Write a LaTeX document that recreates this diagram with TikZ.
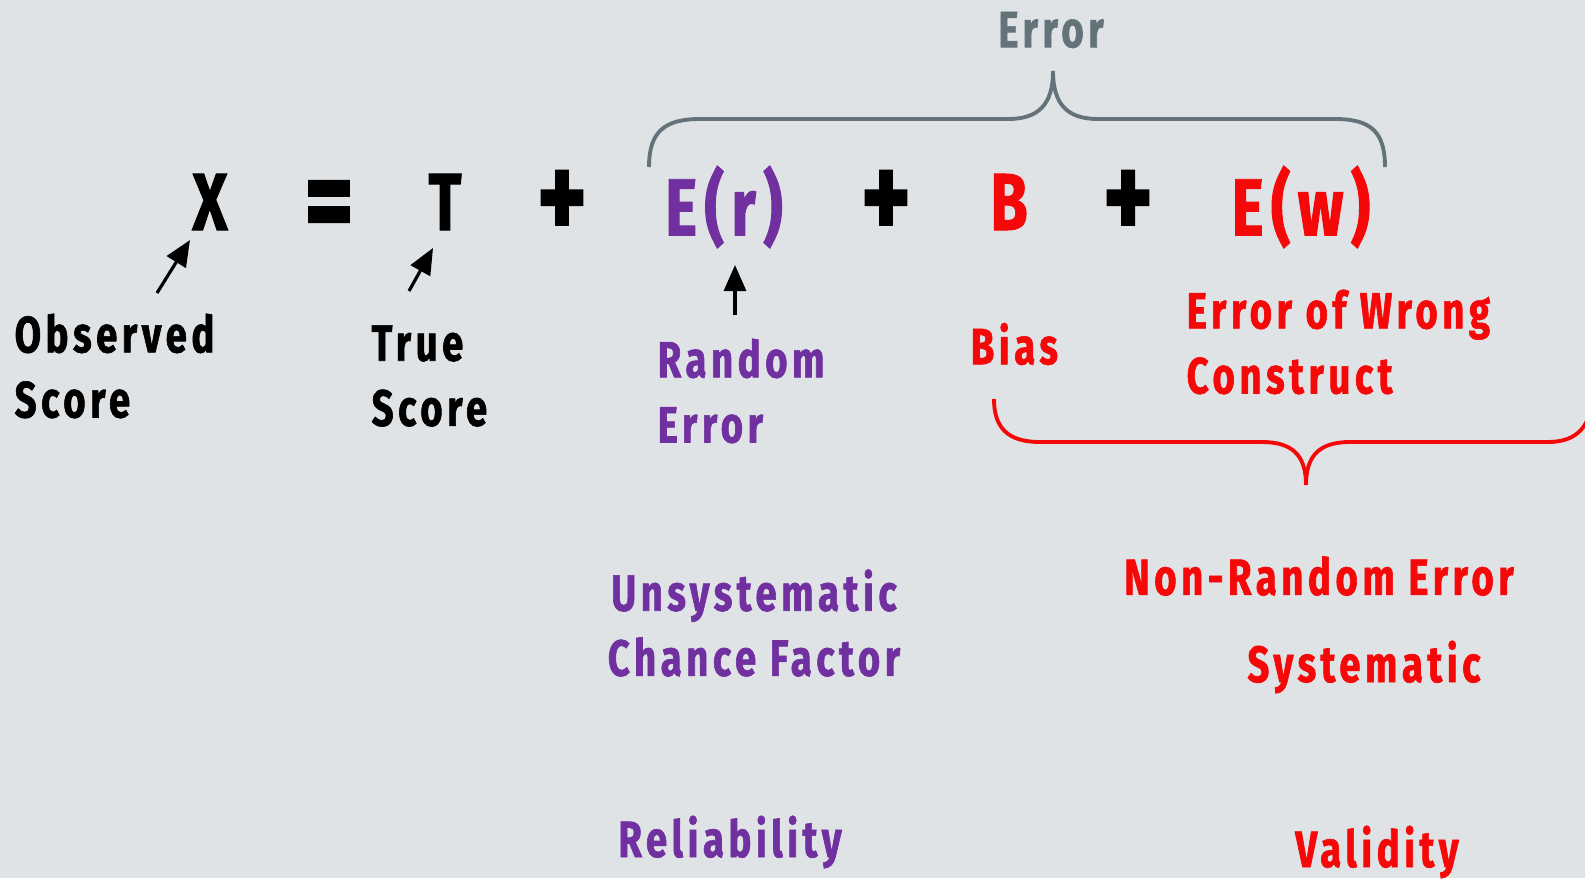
\documentclass[tikz,border=0pt]{standalone}
\usepackage{fontspec}
\setmainfont{Fira Sans}[FakeStretch=0.75, LetterSpace=9, BoldFeatures={FakeBold=1.2}]
\usepackage{tikz}
\usetikzlibrary{arrows.meta}
\definecolor{bgcol}{RGB}{224,227,230}
\definecolor{errgray}{RGB}{100,114,122}
\definecolor{rndpurple}{RGB}{112,48,160}
\definecolor{sysred}{RGB}{245,8,8}

\begin{document}
\begin{tikzpicture}[
    x=0.01cm, y=-0.01cm,
    every node/.style={inner sep=0pt},
    sym/.style={font=\fontsize{23}{26}\selectfont\bfseries},
    op/.style={font=\fontsize{36}{40}\selectfont\bfseries},
    lbl/.style={font=\fontsize{14.5}{18.5}\selectfont\bfseries, align=left, anchor=west},
    ctext/.style={font=\fontsize{14.5}{18.5}\selectfont\bfseries, align=center},
    arr/.style={-{Triangle[length=2.6mm, width=2.2mm]}, line width=0.9pt},
    brace/.style={line width=1.1pt}
]
\fill[bgcol] (0,0) rectangle (1585,878);
\useasboundingbox (0,0) rectangle (1585,878);

% the equation
\node[sym] (X) at (210,202) {X};
\node[op] (eq) at (329,212) {=};
\node[sym] (T) at (445,202) {T};
\node[op] (p1) at (562,205) {+};
\node[sym, text=rndpurple] (Er) at (724,207) {E(r)};
\node[op] (p2) at (886,205) {+};
\node[sym, text=sysred] (B) at (1009,202) {B};
\node[op] (p3) at (1128,205) {+};
\node[sym, text=sysred] (Ew) at (1301,207) {E(w)};

% labels under it
\node[lbl] (obs) at (14,366) {Observed\\Score};
\node[lbl] (tru) at (371,376) {True\\Score};
\node[lbl, text=rndpurple] (rnd) at (657,391) {Random\\Error};
\node[lbl, text=sysred] (bias) at (970,344) {Bias};
\node[lbl, text=sysred] (wrong) at (1186,342) {Error of Wrong\\Construct};

\coordinate (obsTail) at (157,293);
\coordinate (obsTip) at (190,240);
\coordinate (truTail) at (409,291);
\coordinate (truTip) at (433,248);
\coordinate (rndTail) at (735,315);
\coordinate (rndTip) at (735,265);
\draw[arr] (obsTail) -- (obsTip);
\draw[arr] (truTail) -- (truTip);
\draw[arr] (rndTail) -- (rndTip);

% error brace
\node[ctext, text=errgray] (err) at (1051,30) {Error};
\draw[brace, errgray] (649,167) .. controls (649,132) and (664,119) .. (700,119)
    -- (1008,119) .. controls (1038,119) and (1053,105) .. (1053,71)
    .. controls (1053,105) and (1068,119) .. (1098,119)
    -- (1335,119) .. controls (1371,119) and (1385,132) .. (1385,167);

% systematic brace
\draw[brace, sysred] (994,399) .. controls (994,428) and (1008,442) .. (1040,442)
    -- (1262,442) .. controls (1292,442) and (1306,455) .. (1306,485)
    .. controls (1306,455) and (1320,442) .. (1350,442)
    -- (1548,442) .. controls (1578,442) and (1590,425) .. (1592,400);

\node[ctext, text=rndpurple] (chance) at (754,623) {Unsystematic\\Chance Factor};
\node[ctext, text=sysred] (nonrnd) at (1319,576) {Non-Random Error};
\node[ctext, text=sysred] (syst) at (1364,667) {Systematic};
\node[ctext, text=rndpurple] (rel) at (730,842) {Reliability};
\node[ctext, text=sysred] (val) at (1377,852) {Validity};
\end{tikzpicture}
\end{document}
